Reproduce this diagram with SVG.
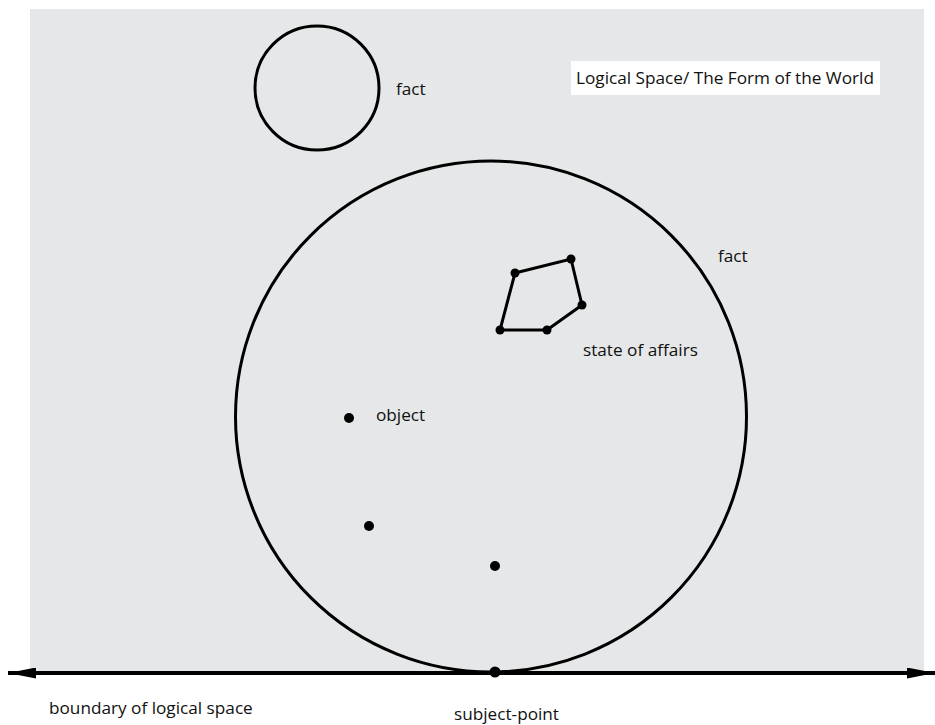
<svg xmlns="http://www.w3.org/2000/svg" width="935" height="725" viewBox="0 0 935 725">
<defs>
<style>
.ln{fill:none;stroke:#000;stroke-width:3}
.lbl{font-family:"Open Sans","Liberation Sans",sans-serif;font-size:17.2px;fill:#111}
.dot{fill:#000}
</style>
<marker id="ah" viewBox="0 0 28 11" refX="28" refY="5.5" markerWidth="28" markerHeight="11" markerUnits="userSpaceOnUse" orient="auto-start-reverse">
<path d="M0,0 L28,5.5 L0,11 Z" fill="#000"/>
</marker>
</defs>
<rect x="30" y="9" width="894" height="663" fill="#e6e7e8"/>
<g id="title">
<rect x="571" y="61" width="309" height="34" fill="#fff"/>
<text class="lbl" x="576" y="84">Logical Space/ The Form of the World</text>
</g>
<g id="fact-small">
<circle class="ln" cx="317" cy="88" r="62"/>
<text class="lbl" x="396" y="95">fact</text>
</g>
<g id="fact-large">
<circle class="ln" cx="491" cy="416.5" r="255.5"/>
<text class="lbl" x="718" y="262">fact</text>
</g>
<g id="state-of-affairs">
<polygon class="ln" points="515,273 571,259 582,305 547,330 500,330"/>
<circle class="dot" cx="515" cy="273" r="4.5"/>
<circle class="dot" cx="571" cy="259" r="4.5"/>
<circle class="dot" cx="582" cy="305" r="4.5"/>
<circle class="dot" cx="547" cy="330" r="4.5"/>
<circle class="dot" cx="500" cy="330" r="4.5"/>
<text class="lbl" x="583" y="356">state of affairs</text>
</g>
<g id="object">
<circle class="dot" cx="349" cy="418" r="5"/>
<text class="lbl" x="376" y="421">object</text>
</g>
<g id="object2"><circle class="dot" cx="369" cy="526" r="5"/></g>
<g id="object3"><circle class="dot" cx="495" cy="566" r="5"/></g>
<g id="connectors">
<line x1="8" y1="673" x2="935" y2="673" stroke="#000" stroke-width="4" marker-start="url(#ah)" marker-end="url(#ah)"/>
</g>
<g id="subject-point">
<circle class="dot" cx="495" cy="672" r="5.5"/>
<text class="lbl" x="454" y="720">subject-point</text>
</g>
<g id="boundary">
<text class="lbl" x="49" y="714">boundary of logical space</text>
</g>
</svg>
